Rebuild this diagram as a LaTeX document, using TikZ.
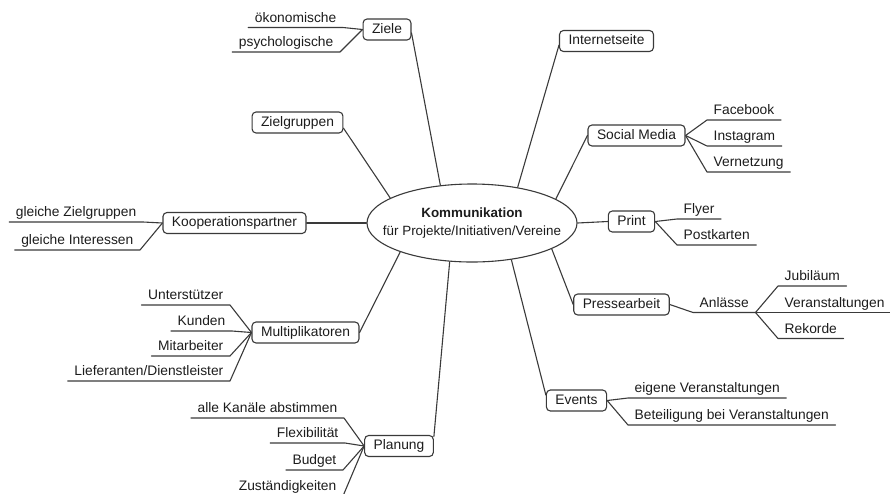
\documentclass[tikz,border=0pt]{standalone}
\usepackage{fontspec}
\setmainfont{Liberation Sans}
\usetikzlibrary{shapes.geometric,backgrounds}
\definecolor{mapline}{HTML}{3A3A3A}
\definecolor{maptext}{HTML}{1C1C1C}
\tikzset{
  map center/.style={
    ellipse, draw=mapline, fill=white, text=maptext,
    line width=1.1pt,
    minimum width=210pt, minimum height=78pt,
    inner xsep=-15pt, inner ysep=0pt,
    font=\fontsize{13.4}{17.5}\selectfont, align=center
  },
  map topic/.style={
    rectangle, rounded corners=4pt,
    draw=mapline, fill=white, text=maptext,
    line width=1.1pt,
    minimum height=21pt, inner xsep=9pt, inner ysep=0pt,
    text height=10pt, text depth=3pt,
    font=\fontsize{13.8}{16}\selectfont
  },
  map leaf/.style={
    text=maptext, inner xsep=6.5pt, inner ysep=2pt,
    text height=10pt, text depth=3pt,
    font=\fontsize{13.8}{16}\selectfont
  },
  map line/.style={
    draw=mapline, line width=1.1pt,
    line cap=round, line join=round
  }
}
\begin{document}
\begin{tikzpicture}[x=10pt,y=-10pt]
  \useasboundingbox (0,0) rectangle (89,49.3);

  \node[map center] (komm) at (47.2,22.3) {\textbf{Kommunikation}\\für Projekte/Initiativen/Vereine};

  % main topics round the centre
  \node[map topic] (ziele) at (38.7,2.95) {Ziele};
  \node[map topic] (zielgruppen) at (29.75,12.25) {Zielgruppen};
  \node[map topic] (kooperation) at (23.45,22.3) {Kooperationspartner};
  \node[map topic] (multi) at (30.55,33.25) {Multiplikatoren};
  \node[map topic] (planung) at (39.9,44.6) {Planung};
  \node[map topic] (internet) at (60.65,4.1) {Internetseite};
  \node[map topic] (social) at (63.65,13.55) {Social Media};
  \node[map topic] (print) at (63.15,22.15) {Print};
  \node[map topic] (presse) at (62.15,30.45) {Pressearbeit};
  \node[map topic] (events) at (57.65,40.05) {Events};

  % leaves on the left hang off their right end
  \node[map leaf,anchor=south east] (oekonomisch) at (34.3,2.75) {ökonomische};
  \node[map leaf,anchor=south east] (psychologisch) at (34.0,5.2) {psychologische};
  \node[map leaf,anchor=south east] (gleichziel) at (14.3,22.2) {gleiche Zielgruppen};
  \node[map leaf,anchor=south east] (gleichinteresse) at (14.0,25.0) {gleiche Interessen};
  \node[map leaf,anchor=south east] (unterstuetzer) at (23.0,30.5) {Unterstützer};
  \node[map leaf,anchor=south east] (kunden) at (23.2,33.1) {Kunden};
  \node[map leaf,anchor=south east] (mitarbeiter) at (23.0,35.6) {Mitarbeiter};
  \node[map leaf,anchor=south east] (lieferanten) at (23.0,38.1) {Lieferanten/Dienstleister};
  \node[map leaf,anchor=south east] (kanaele) at (34.4,41.8) {alle Kanäle abstimmen};
  \node[map leaf,anchor=south east] (flexibel) at (34.5,44.3) {Flexibilität};
  \node[map leaf,anchor=south east] (budget) at (34.3,47.0) {Budget};
  \node[map leaf,anchor=south east] (zustaendig) at (34.3,49.6) {Zuständigkeiten};

  % leaves on the right hang off their left end
  \node[map leaf,anchor=south west] (facebook) at (70.7,12.0) {Facebook};
  \node[map leaf,anchor=south west] (instagram) at (70.7,14.6) {Instagram};
  \node[map leaf,anchor=south west] (vernetzung) at (70.7,17.2) {Vernetzung};
  \node[map leaf,anchor=south west] (flyer) at (67.7,21.9) {Flyer};
  \node[map leaf,anchor=south west] (postkarten) at (67.7,24.5) {Postkarten};
  \node[map leaf,anchor=south west] (anlaesse) at (69.3,31.25) {Anlässe};
  \node[map leaf,anchor=south west] (jubilaeum) at (77.8,28.6) {Jubiläum};
  \node[map leaf,anchor=south west] (veranstaltung) at (77.8,31.25) {Veranstaltungen};
  \node[map leaf,anchor=south west] (rekorde) at (77.8,33.85) {Rekorde};
  \node[map leaf,anchor=south west] (eigene) at (62.8,39.8) {eigene Veranstaltungen};
  \node[map leaf,anchor=south west] (beteiligung) at (62.8,42.5) {Beteiligung bei Veranstaltungen};

  \begin{scope}[on background layer]
    \draw[map line] (komm.130) -- (ziele.-8);
    \draw[map line] (komm.163) -- (zielgruppen.-7);
    \draw[map line] (komm.west) -- (kooperation.east);
    \draw[map line] (komm.-158) -- (multi.east);
    \draw[map line] (komm.-120) -- (planung.15);
    \draw[map line] (komm.38) -- (internet.185);
    \draw[map line] (komm.16) -- (social.west);
    \draw[map line] (komm.east) -- (print.west);
    \draw[map line] (komm.-18) -- (presse.west);
    \draw[map line] (komm.-43) -- (events.170);

    \foreach \leaf in {oekonomisch,psychologisch}
      \draw[map line] (ziele.west) -- (\leaf.south east) -- (\leaf.south west);
    \foreach \leaf in {gleichziel,gleichinteresse}
      \draw[map line] (kooperation.west) -- (\leaf.south east) -- (\leaf.south west);
    \foreach \leaf in {unterstuetzer,kunden,mitarbeiter,lieferanten}
      \draw[map line] (multi.west) -- (\leaf.south east) -- (\leaf.south west);
    \foreach \leaf in {kanaele,flexibel,budget,zustaendig}
      \draw[map line] (planung.west) -- (\leaf.south east) -- (\leaf.south west);

    \foreach \leaf in {facebook,instagram,vernetzung}
      \draw[map line] (social.east) -- (\leaf.south west) -- (\leaf.south east);
    \foreach \leaf in {flyer,postkarten}
      \draw[map line] (print.east) -- (\leaf.south west) -- (\leaf.south east);
    \draw[map line] (presse.east) -- (anlaesse.south west) -- (anlaesse.south east);
    \foreach \leaf in {jubilaeum,veranstaltung,rekorde}
      \draw[map line] (anlaesse.south east) -- (\leaf.south west) -- (\leaf.south east);
    \foreach \leaf in {eigene,beteiligung}
      \draw[map line] (events.east) -- (\leaf.south west) -- (\leaf.south east);
  \end{scope}
\end{tikzpicture}
\end{document}
